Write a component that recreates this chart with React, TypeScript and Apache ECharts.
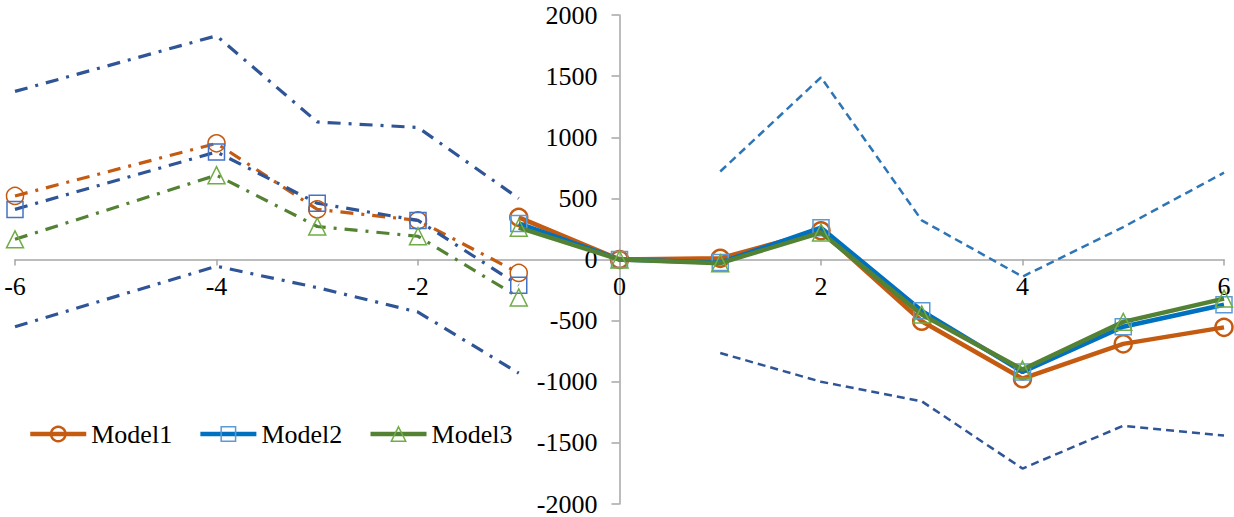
import React, { useEffect, useRef } from "react";
import * as echarts from "echarts";

// x positions
const xLeft = [-6, -4, -3, -2, -1];
const xRight = [-1, 0, 1, 2, 3, 4, 5, 6];
const xBand = [1, 2, 3, 4, 5, 6];

// left (dash-dot) model values
const m1Left = [520, 950, 410, 320, -110];
const m2Left = [410, 880, 460, 320, -210];
const m3Left = [165, 690, 270, 190, -310];
const upperLeft = [1375, 1830, 1125, 1080, 500];
const lowerLeft = [-550, -55, -230, -430, -930];

// right (solid) model values
const m1Right = [345, 0, 10, 235, -505, -975, -690, -555];
const m2Right = [295, 0, -25, 260, -420, -920, -550, -370];
const m3Right = [260, 0, -30, 220, -450, -900, -510, -320];
const upperRight = [720, 1490, 320, -140, 265, 710];
const lowerRight = [-765, -1000, -1160, -1710, -1360, -1440];

const legendNames = ["Model1", "Model2", "Model3"];
const yTicks = { min: -2000, max: 2000, interval: 500 };
const xTicks = { min: -6, max: 6, interval: 2 };

const pairs = (xs: number[], ys: number[]) => xs.map((x, i) => [x, ys[i]]);

const FONT = "Liberation Serif";
const DASHDOT = [13, 8, 3, 8];

const W = 1234;
const H = 517;
const G = { left: 15, right: 10, top: 15, bottom: 13 };

export default function App() {
  const ref = useRef<HTMLDivElement>(null);
  useEffect(() => {
    if (!ref.current) return;
    const chart = echarts.init(ref.current, null, { renderer: "svg" });
    const marker = (color: string, bw: number) => ({
      color: "rgba(255,255,255,0)",
      borderColor: color,
      borderWidth: bw,
    });
    const gw = W - G.left - G.right;
    const gh = H - G.top - G.bottom;
    const yAxisOffset = -gw * ((0 - xTicks.min) / (xTicks.max - xTicks.min));
    const xAxisOffset = -gh * ((0 - yTicks.min) / (yTicks.max - yTicks.min));
    const series: any[] = [
      { name: "upperL", type: "line", data: pairs(xLeft, upperLeft), showSymbol: false,
        lineStyle: { color: "#2F5597", width: 3.2, type: DASHDOT }, z: 1 },
      { name: "lowerL", type: "line", data: pairs(xLeft, lowerLeft), showSymbol: false,
        lineStyle: { color: "#2F5597", width: 3.2, type: DASHDOT }, z: 1 },
      { name: "upperR", type: "line", data: pairs(xBand, upperRight), showSymbol: false,
        lineStyle: { color: "#2E75B6", width: 2.5, type: [8, 5] }, z: 1 },
      { name: "lowerR", type: "line", data: pairs(xBand, lowerRight), showSymbol: false,
        lineStyle: { color: "#2F5597", width: 2.5, type: [8, 5] }, z: 1 },
      { name: "m1L", type: "line", data: pairs(xLeft, m1Left), symbol: "circle", symbolSize: 17,
        lineStyle: { color: "#C55A11", width: 3.2, type: DASHDOT }, itemStyle: marker("#C55A11", 1.5), z: 2 },
      { name: "m2L", type: "line", data: pairs(xLeft, m2Left), symbol: "rect", symbolSize: 16,
        lineStyle: { color: "#2F5597", width: 3.2, type: DASHDOT }, itemStyle: marker("#4472C4", 1.5), z: 2 },
      { name: "m3L", type: "line", data: pairs(xLeft, m3Left), symbol: "triangle", symbolSize: 17,
        lineStyle: { color: "#548235", width: 3.2, type: DASHDOT }, itemStyle: marker("#70AD47", 1.5), z: 2 },
      { name: "Model1", type: "line", data: pairs(xRight, m1Right), symbol: "circle", symbolSize: 17,
        color: "#C55A11", lineStyle: { color: "#C55A11", width: 4.5 }, itemStyle: marker("#C55A11", 2.5), z: 3 },
      { name: "Model2", type: "line", data: pairs(xRight, m2Right), symbol: "rect", symbolSize: 16,
        color: "#0070C0", lineStyle: { color: "#0070C0", width: 4.5 }, itemStyle: marker("#5B9BD5", 1.5), z: 4 },
      { name: "Model3", type: "line", data: pairs(xRight, m3Right), symbol: "triangle", symbolSize: 17,
        color: "#548235", lineStyle: { color: "#548235", width: 4.5 }, itemStyle: marker("#70AD47", 1.5), z: 5 },
    ];
    const legendBorder = [2.5, 1.5, 1.5];
    const labelRich = { t: { fontFamily: FONT, fontSize: 26, color: "#000" } };
    chart.setOption({
      animation: false,
      textStyle: { fontFamily: FONT },
      grid: { left: G.left, right: G.right, top: G.top, bottom: G.bottom, containLabel: false, outerBoundsMode: "none" },
      legend: {
        data: legendNames.map((n, i) => ({ name: n, itemStyle: { borderWidth: legendBorder[i] }, lineStyle: { width: 4.5 } })),
        left: 23,
        top: 416,
        itemWidth: 56,
        itemHeight: 18,
        itemGap: 26,
        textStyle: { fontFamily: FONT, fontSize: 26, color: "#000" },
      },
      xAxis: {
        type: "value", min: xTicks.min, max: xTicks.max, interval: xTicks.interval, offset: xAxisOffset,
        axisLine: { onZero: false, lineStyle: { color: "#A6A6A6", width: 1.5 } },
        axisTick: { show: true, length: 6, lineStyle: { color: "#A6A6A6", width: 1.5 } },
        axisLabel: {
          fontFamily: FONT, fontSize: 26, color: "#000", margin: 14,
          formatter: (v: number) => "{t|" + String(v) + "}",
          rich: labelRich,
        },
        splitLine: { show: false },
      },
      yAxis: {
        type: "value", min: yTicks.min, max: yTicks.max, interval: yTicks.interval, offset: yAxisOffset,
        axisLine: { show: true, onZero: false, lineStyle: { color: "#A6A6A6", width: 1.5 } },
        axisTick: { show: true, length: 8, lineStyle: { color: "#A6A6A6", width: 1.5 } },
        axisLabel: {
          fontFamily: FONT, fontSize: 26, color: "#000", margin: 22,
          formatter: (v: number) => "{t|" + String(v) + "}",
          rich: labelRich,
        },
        splitLine: { show: false },
      },
      series,
    });
    return () => chart.dispose();
  }, []);
  return <div ref={ref} style={{ position: "fixed", left: 0, top: 0, width: W, height: H, background: "#fff" }} />;
}
